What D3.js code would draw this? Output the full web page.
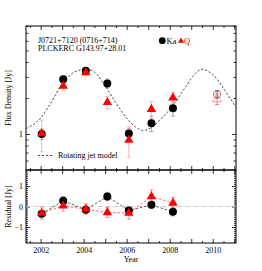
<!DOCTYPE html>
<html>
<head>
<meta charset="utf-8">
<script src="https://cdn.jsdelivr.net/npm/d3@7"></script>
<style>
  body { margin: 0; background: #fff; }
  svg text { font-family: "Liberation Serif", "Times New Roman", serif; }
</style>
</head>
<body>
<div id="chart"></div>
<script>
// observation epochs (years)
var years = [2002.05, 2003.05, 2004.1, 2005.1, 2006.1, 2007.15, 2008.15];
// flux density [Jy]
var kaFlux = [1.0, 2.87, 3.38, 2.65, 1.01, 1.23, 1.64];
var kaErr = [0.1, 0.18, 0.1, 0.23, 0.1, 0.18, 0.23];
var qFlux = [1.01, 2.52, 3.26, 1.84, 0.89, 1.61, 2.01];
var qErr = [0.3, 0.2, 0.15, 0.22, 0.25, 0.26, 0.22];
// residuals [Jy]
var kaResid = [-0.35, 0.28, -0.16, 0.49, -0.2, 0.08, -0.26];
var kaResErr = [0.15, 0.2, 0.12, 0.2, 0.15, 0.18, 0.2];
var qResid = [-0.32, 0.03, -0.13, -0.29, -0.32, 0.49, 0.17];
var qResErr = [0.3, 0.25, 0.25, 0.25, 0.3, 0.32, 0.28];
// later point (open symbols)
var lateYears = [2010.2];
var lateKa = [2.15];
var lateKaErr = [0.15];
var lateQ = [1.96];
var lateQErr = [0.2];
// rotating jet model
var modelYears = [2001.32, 2001.7, 2002.0, 2002.5, 2003.0, 2003.5, 2004.05, 2004.5, 2005.0, 2005.5, 2006.0, 2006.4, 2006.75, 2007.1, 2007.7, 2008.2, 2008.7, 2009.2, 2009.5, 2010.0, 2010.5, 2011.08];
var modelFlux = [1.11, 1.21, 1.36, 1.85, 2.62, 3.24, 3.48, 3.30, 2.52, 1.82, 1.36, 1.15, 1.07, 1.12, 1.40, 1.78, 2.42, 3.21, 3.48, 3.14, 2.40, 1.67];
// tick labels
var yearLabels = [2002, 2004, 2006, 2008, 2010];
var fluxLabels = [1];
var residLabels = [-1, 0, 1];

var W = 262, H = 271;
var xLeft = 26, xRight = 236, yTop = 26, yMid = 170, yBottom = 243;

var svg = d3.select("#chart").append("svg")
    .attr("width", W).attr("height", H);

var x = d3.scaleLinear().domain([2001.32, 2011.08]).range([xLeft, xRight]);
var y = d3.scaleLog().domain([0.5, 8]).range([yMid, yTop]);
var yr = d3.scaleLinear().domain([-1.78, 1.78]).range([yBottom, yMid]);

var fontSize = 8;

function clean(g) {
    g.select(".domain").remove();
    g.selectAll("line").attr("stroke", "#000").attr("stroke-width", 0.8);
    g.selectAll("text").attr("font-family", "Liberation Serif, serif").attr("font-size", fontSize).attr("fill", "#000");
}

var yearMajor = d3.range(2002, 2012, 1);
var yearMinor = d3.range(2001.5, 2011.01, 1);
var fluxMinor = [0.6, 0.7, 0.8, 0.9, 2, 3, 4, 5, 6, 7, 8];
var residMinor = d3.range(-17, 18).map(function (d) { return d / 10; })
    .filter(function (d) { return Math.abs(d - Math.round(d)) > 0.01; });

// x ticks on top edge, divider (both sides) and bottom
[[d3.axisTop, yTop], [d3.axisBottom, yMid], [d3.axisTop, yMid], [d3.axisBottom, yBottom]].forEach(function (a, i) {
    svg.append("g").attr("transform", "translate(0," + a[1] + ")")
        .call(a[0](x).tickValues(yearMinor).tickSizeInner(-2).tickSizeOuter(0).tickFormat(""))
        .call(clean);
    var major = a[0](x).tickValues(yearMajor).tickSizeInner(-4).tickSizeOuter(0).tickPadding(4);
    if (i == 3) {
        major.tickFormat(function (d) { return yearLabels.indexOf(d) >= 0 ? d : ""; });
    } else {
        major.tickFormat("");
    }
    svg.append("g").attr("transform", "translate(0," + a[1] + ")").call(major).call(clean);
});

// log y axis (top panel)
svg.append("g").attr("transform", "translate(" + xLeft + ",0)")
    .call(d3.axisLeft(y).tickValues(fluxMinor).tickSizeInner(-2.5).tickSizeOuter(0).tickFormat(""))
    .call(clean);
svg.append("g").attr("transform", "translate(" + xLeft + ",0)")
    .call(d3.axisLeft(y).tickValues(fluxLabels).tickSizeInner(-4).tickSizeOuter(0).tickPadding(3).tickFormat(d3.format("d")))
    .call(clean);
svg.append("g").attr("transform", "translate(" + xRight + ",0)")
    .call(d3.axisRight(y).tickValues(fluxMinor).tickSizeInner(-2.5).tickSizeOuter(0).tickFormat(""))
    .call(clean);
svg.append("g").attr("transform", "translate(" + xRight + ",0)")
    .call(d3.axisRight(y).tickValues(fluxLabels).tickSizeInner(-4).tickSizeOuter(0).tickFormat(""))
    .call(clean);

// residual y axis
svg.append("g").attr("transform", "translate(" + xLeft + ",0)")
    .call(d3.axisLeft(yr).tickValues(residMinor).tickSizeInner(-2).tickSizeOuter(0).tickFormat(""))
    .call(clean);
svg.append("g").attr("transform", "translate(" + xLeft + ",0)")
    .call(d3.axisLeft(yr).tickValues(residLabels).tickSizeInner(-4).tickSizeOuter(0).tickPadding(3).tickFormat(d3.format("d")))
    .call(clean);
svg.append("g").attr("transform", "translate(" + xRight + ",0)")
    .call(d3.axisRight(yr).tickValues(residMinor).tickSizeInner(-2).tickSizeOuter(0).tickFormat(""))
    .call(clean);
svg.append("g").attr("transform", "translate(" + xRight + ",0)")
    .call(d3.axisRight(yr).tickValues(residLabels).tickSizeInner(-4).tickSizeOuter(0).tickFormat(""))
    .call(clean);

// frames
svg.append("rect").attr("x", xLeft).attr("y", yTop).attr("width", xRight - xLeft).attr("height", yMid - yTop)
    .attr("fill", "none").attr("stroke", "#000").attr("stroke-width", 1);
svg.append("rect").attr("x", xLeft).attr("y", yMid).attr("width", xRight - xLeft).attr("height", yBottom - yMid)
    .attr("fill", "none").attr("stroke", "#000").attr("stroke-width", 1);

// zero line
svg.append("line").attr("x1", xLeft).attr("x2", xRight).attr("y1", yr(0)).attr("y2", yr(0))
    .attr("stroke", "#bbb").attr("stroke-width", 0.8).attr("stroke-dasharray", "4,1.5,1,1.5");

// model curve
var modelPts = modelYears.map(function (d, i) { return [d, modelFlux[i]]; });
var line = d3.line()
    .curve(d3.curveCatmullRom)
    .x(function (d) { return x(d[0]); })
    .y(function (d) { return y(d[1]); });
svg.append("path").datum(modelPts).attr("d", line)
    .attr("fill", "none").attr("stroke", "#333").attr("stroke-width", 0.9).attr("stroke-dasharray", "2.2,1.8");

var tri = d3.symbol().type(d3.symbolTriangle).size(38);

function errBars(g, xs, vals, errs, yScale, color, width) {
    xs.forEach(function (t, i) {
        var x0 = x(t), y1 = yScale(vals[i] - errs[i]), y2 = yScale(vals[i] + errs[i]);
        g.append("line").attr("x1", x0).attr("x2", x0).attr("y1", y1).attr("y2", y2)
            .attr("stroke", color).attr("stroke-width", width);
        [y1, y2].forEach(function (yy) {
            g.append("line").attr("x1", x0 - 2).attr("x2", x0 + 2).attr("y1", yy).attr("y2", yy)
                .attr("stroke", color).attr("stroke-width", width);
        });
    });
}

// top panel points
var gTop = svg.append("g");
errBars(gTop, years, kaFlux, kaErr, y, "#999", 0.8);
errBars(gTop, years, qFlux, qErr, y, "#f7a0a0", 0.8);
errBars(gTop, lateYears, lateKa, lateKaErr, y, "#444", 0.8);
errBars(gTop, lateYears, lateQ, lateQErr, y, "#f55", 0.8);
gTop.selectAll("circle.ka").data(years).enter().append("circle")
    .attr("cx", function (d) { return x(d); })
    .attr("cy", function (d, i) { return y(kaFlux[i]); })
    .attr("r", 4).attr("fill", "#000");
gTop.selectAll("path.q").data(years).enter().append("path")
    .attr("d", tri)
    .attr("transform", function (d, i) { return "translate(" + x(d) + "," + y(qFlux[i]) + ")"; })
    .attr("fill", "#f00");
gTop.selectAll("circle.late").data(lateYears).enter().append("circle")
    .attr("cx", function (d) { return x(d); })
    .attr("cy", function (d, i) { return y(lateKa[i]); })
    .attr("r", 3.6).attr("fill", "none").attr("stroke", "#666").attr("stroke-width", 0.8);
gTop.selectAll("path.lateq").data(lateYears).enter().append("path")
    .attr("d", tri)
    .attr("transform", function (d, i) { return "translate(" + x(d) + "," + y(lateQ[i]) + ")"; })
    .attr("fill", "none").attr("stroke", "#f88").attr("stroke-width", 0.8);

// residual panel
var gRes = svg.append("g");
var rline = d3.line().x(function (d) { return x(d[0]); }).y(function (d) { return yr(d[1]); });
gRes.append("path").datum(years.map(function (d, i) { return [d, kaResid[i]]; })).attr("d", rline)
    .attr("fill", "none").attr("stroke", "#333").attr("stroke-width", 0.8).attr("stroke-dasharray", "2.5,1.8");
gRes.append("path").datum(years.map(function (d, i) { return [d, qResid[i]]; })).attr("d", rline)
    .attr("fill", "none").attr("stroke", "#f44").attr("stroke-width", 0.8).attr("stroke-dasharray", "2.5,1.8");
errBars(gRes, years, kaResid, kaResErr, yr, "#999", 0.8);
errBars(gRes, years, qResid, qResErr, yr, "#f77", 0.8);
gRes.selectAll("circle").data(years).enter().append("circle")
    .attr("cx", function (d) { return x(d); })
    .attr("cy", function (d, i) { return yr(kaResid[i]); })
    .attr("r", 4).attr("fill", "#000");
gRes.selectAll("path.q").data(years).enter().append("path")
    .attr("d", tri)
    .attr("transform", function (d, i) { return "translate(" + x(d) + "," + yr(qResid[i]) + ")"; })
    .attr("fill", "#f00");

// labels
svg.append("text").attr("x", 38).attr("y", 43).attr("font-size", fontSize).text("J0721+7120 (0716+714)");
svg.append("text").attr("x", 38).attr("y", 50.5).attr("font-size", fontSize).text("PLCKERC G143.97+28.01");

// legend Ka / Q
svg.append("circle").attr("cx", 162.3).attr("cy", 40.7).attr("r", 3.4).attr("fill", "#000");
svg.append("text").attr("x", 166.5).attr("y", 43.5).attr("font-size", 8.5).text("Ka");
svg.append("path").attr("d", d3.symbol().type(d3.symbolTriangle).size(17))
    .attr("transform", "translate(181,41)").attr("fill", "#f00");
svg.append("text").attr("x", 184).attr("y", 43.5).attr("font-size", 8.5).attr("fill", "#f00").text("Q");

// model legend
svg.append("line").attr("x1", 38).attr("x2", 53).attr("y1", 155.5).attr("y2", 155.5)
    .attr("stroke", "#333").attr("stroke-width", 0.9).attr("stroke-dasharray", "2.2,1.8");
svg.append("text").attr("x", 58).attr("y", 158.3).attr("font-size", fontSize).text("Rotating jet model");

// axis titles
svg.append("text").attr("transform", "translate(11," + ((yTop + yMid) / 2) + ") rotate(-90)")
    .attr("text-anchor", "middle").attr("font-size", fontSize).text("Flux Density [Jy]");
svg.append("text").attr("transform", "translate(11," + ((yMid + yBottom) / 2) + ") rotate(-90)")
    .attr("text-anchor", "middle").attr("font-size", fontSize).text("Residual [Jy]");
svg.append("text").attr("x", (xLeft + xRight) / 2).attr("y", 262).attr("text-anchor", "middle")
    .attr("font-size", fontSize).text("Year");
</script>
</body>
</html>
